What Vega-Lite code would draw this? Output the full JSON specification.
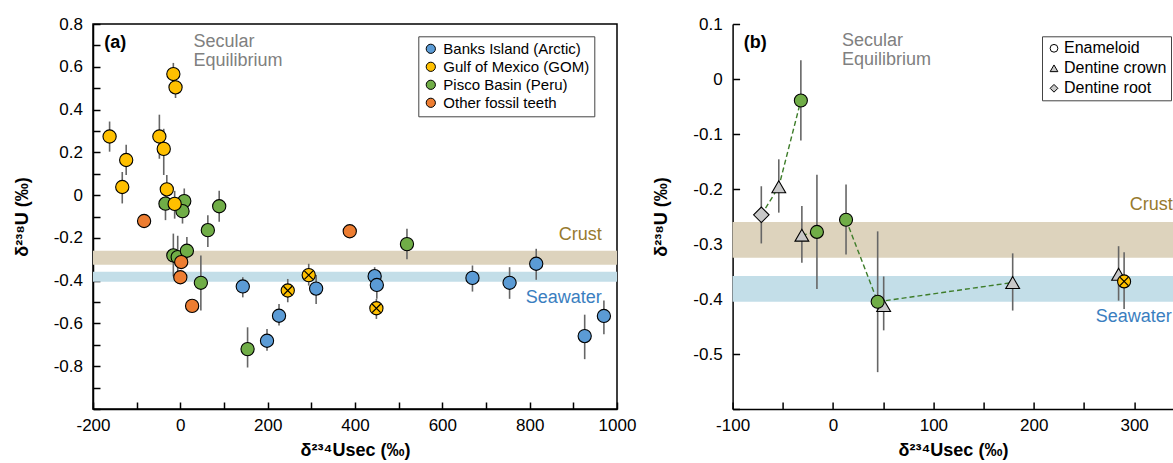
{
  "$schema": "https://vega.github.io/schema/vega-lite/v6.json",
  "padding": {"left": 12, "top": 14, "right": 0, "bottom": 0},
  "background": "white",
  "bounds": "flush",
  "spacing": 115.6,
  "config": {
    "font": "Liberation Sans",
    "view": {"stroke": "black", "strokeWidth": 1.5},
    "axis": {
      "grid": false, "domainColor": "black", "domainWidth": 1.5,
      "tickColor": "black", "tickWidth": 1.5, "zindex": 1,
      "labelFont": "Liberation Sans", "labelFontSize": 17, "labelColor": "black",
      "titleFont": "Liberation Sans", "titleFontSize": 18, "titleFontWeight": "bold", "titleColor": "black",
      "labelOverlap": false, "labelFlush": false
    },
    "axisX": {"titleY": 41, "titleBaseline": "middle"},
    "axisY": {"titleX": -71, "titleBaseline": "middle"}
  },
  "datasets": {
    "teethA": [
      {"group": "Pisco Basin (Peru)", "d234": -34, "d238": -0.04, "lo": -0.117, "hi": 0.03, "marked": false},
      {"group": "Pisco Basin (Peru)", "d234": 9, "d238": -0.028, "lo": -0.09, "hi": 0.031, "marked": false},
      {"group": "Pisco Basin (Peru)", "d234": 5, "d238": -0.075, "lo": -0.133, "hi": -0.015, "marked": false},
      {"group": "Pisco Basin (Peru)", "d234": 89, "d238": -0.052, "lo": -0.125, "hi": 0.02, "marked": false},
      {"group": "Pisco Basin (Peru)", "d234": 63, "d238": -0.164, "lo": -0.243, "hi": -0.094, "marked": false},
      {"group": "Pisco Basin (Peru)", "d234": -16, "d238": -0.282, "lo": -0.38, "hi": -0.18, "marked": false},
      {"group": "Pisco Basin (Peru)", "d234": -6, "d238": -0.29, "lo": -0.39, "hi": -0.19, "marked": false},
      {"group": "Pisco Basin (Peru)", "d234": 15, "d238": -0.26, "lo": -0.321, "hi": -0.196, "marked": false},
      {"group": "Pisco Basin (Peru)", "d234": 47, "d238": -0.41, "lo": -0.54, "hi": -0.282, "marked": false},
      {"group": "Pisco Basin (Peru)", "d234": 154, "d238": -0.72, "lo": -0.806, "hi": -0.618, "marked": false},
      {"group": "Pisco Basin (Peru)", "d234": 519, "d238": -0.229, "lo": -0.3, "hi": -0.157, "marked": false},
      {"group": "Gulf of Mexico (GOM)", "d234": -162, "d238": 0.274, "lo": 0.203, "hi": 0.344, "marked": false},
      {"group": "Gulf of Mexico (GOM)", "d234": -124, "d238": 0.164, "lo": 0.094, "hi": 0.235, "marked": false},
      {"group": "Gulf of Mexico (GOM)", "d234": -133, "d238": 0.038, "lo": -0.039, "hi": 0.108, "marked": false},
      {"group": "Gulf of Mexico (GOM)", "d234": -48, "d238": 0.274, "lo": 0.17, "hi": 0.376, "marked": false},
      {"group": "Gulf of Mexico (GOM)", "d234": -38, "d238": 0.216, "lo": 0.094, "hi": 0.31, "marked": false},
      {"group": "Gulf of Mexico (GOM)", "d234": -16, "d238": 0.566, "lo": 0.51, "hi": 0.618, "marked": false},
      {"group": "Gulf of Mexico (GOM)", "d234": -11, "d238": 0.504, "lo": 0.454, "hi": 0.56, "marked": false},
      {"group": "Gulf of Mexico (GOM)", "d234": -31, "d238": 0.027, "lo": -0.04, "hi": 0.094, "marked": false},
      {"group": "Gulf of Mexico (GOM)", "d234": -13, "d238": -0.041, "lo": -0.11, "hi": 0.02, "marked": false},
      {"group": "Gulf of Mexico (GOM)", "d234": 246, "d238": -0.446, "lo": -0.501, "hi": -0.392, "marked": true},
      {"group": "Gulf of Mexico (GOM)", "d234": 294, "d238": -0.374, "lo": -0.423, "hi": -0.321, "marked": true},
      {"group": "Gulf of Mexico (GOM)", "d234": 449, "d238": -0.529, "lo": -0.579, "hi": -0.485, "marked": true},
      {"group": "Banks Island (Arctic)", "d234": 143, "d238": -0.427, "lo": -0.478, "hi": -0.384, "marked": false},
      {"group": "Banks Island (Arctic)", "d234": 198.5, "d238": -0.681, "lo": -0.728, "hi": -0.626, "marked": false},
      {"group": "Banks Island (Arctic)", "d234": 226, "d238": -0.564, "lo": -0.61, "hi": -0.509, "marked": false},
      {"group": "Banks Island (Arctic)", "d234": 311, "d238": -0.437, "lo": -0.509, "hi": -0.374, "marked": false},
      {"group": "Banks Island (Arctic)", "d234": 445, "d238": -0.379, "lo": -0.43, "hi": -0.337, "marked": false},
      {"group": "Banks Island (Arctic)", "d234": 450, "d238": -0.42, "lo": -0.485, "hi": -0.37, "marked": false},
      {"group": "Banks Island (Arctic)", "d234": 669, "d238": -0.387, "lo": -0.451, "hi": -0.329, "marked": false},
      {"group": "Banks Island (Arctic)", "d234": 754, "d238": -0.41, "lo": -0.485, "hi": -0.337, "marked": false},
      {"group": "Banks Island (Arctic)", "d234": 815, "d238": -0.321, "lo": -0.396, "hi": -0.251, "marked": false},
      {"group": "Banks Island (Arctic)", "d234": 926, "d238": -0.659, "lo": -0.767, "hi": -0.559, "marked": false},
      {"group": "Banks Island (Arctic)", "d234": 970, "d238": -0.565, "lo": -0.65, "hi": -0.493, "marked": false},
      {"group": "Other fossil teeth", "d234": -83, "d238": -0.121, "marked": false},
      {"group": "Other fossil teeth", "d234": 2, "d238": -0.313, "marked": false},
      {"group": "Other fossil teeth", "d234": 0, "d238": -0.384, "marked": false},
      {"group": "Other fossil teeth", "d234": 27, "d238": -0.518, "marked": false},
      {"group": "Other fossil teeth", "d234": 388, "d238": -0.169, "marked": false}
    ],
    "teethB": [
      {"tissue": "Dentine root", "group": "Pisco Basin (Peru)", "d234": -71.4, "d238": -0.247, "lo": -0.299, "hi": -0.195, "marked": false},
      {"tissue": "Dentine crown", "group": "Pisco Basin (Peru)", "d234": -54, "d238": -0.196, "lo": -0.243, "hi": -0.146, "marked": false},
      {"tissue": "Dentine crown", "group": "Pisco Basin (Peru)", "d234": -31, "d238": -0.284, "lo": -0.334, "hi": -0.231, "marked": false},
      {"tissue": "Dentine crown", "group": "Pisco Basin (Peru)", "d234": 50.5, "d238": -0.412, "lo": -0.457, "hi": -0.359, "marked": false},
      {"tissue": "Dentine crown", "group": "Pisco Basin (Peru)", "d234": 179, "d238": -0.37, "lo": -0.421, "hi": -0.317, "marked": false},
      {"tissue": "Dentine crown", "group": "Gulf of Mexico (GOM)", "d234": 284.5, "d238": -0.355, "lo": -0.403, "hi": -0.304, "marked": false},
      {"tissue": "Enameloid", "group": "Pisco Basin (Peru)", "d234": -32, "d238": -0.039, "lo": -0.112, "hi": 0.034, "marked": false},
      {"tissue": "Enameloid", "group": "Pisco Basin (Peru)", "d234": -16, "d238": -0.278, "lo": -0.382, "hi": -0.174, "marked": false},
      {"tissue": "Enameloid", "group": "Pisco Basin (Peru)", "d234": 13, "d238": -0.256, "lo": -0.319, "hi": -0.192, "marked": false},
      {"tissue": "Enameloid", "group": "Pisco Basin (Peru)", "d234": 44.5, "d238": -0.405, "lo": -0.533, "hi": -0.277, "marked": false},
      {"tissue": "Enameloid", "group": "Gulf of Mexico (GOM)", "d234": 290, "d238": -0.368, "lo": -0.418, "hi": -0.315, "marked": true}
    ],
    "links": [
      {"link": "t1", "d234": -71.4, "d238": -0.247},
      {"link": "t1", "d234": -54, "d238": -0.196},
      {"link": "t1", "d234": -32, "d238": -0.039},
      {"link": "t2", "d234": -31, "d238": -0.284},
      {"link": "t2", "d234": -16, "d238": -0.278},
      {"link": "t3", "d234": 13, "d238": -0.256},
      {"link": "t3", "d234": 44.5, "d238": -0.405},
      {"link": "t3", "d234": 179, "d238": -0.37}
    ],
    "bands": [
      {"band": "Crust", "lo": -0.325, "hi": -0.26},
      {"band": "Seawater", "lo": -0.405, "hi": -0.358}
    ]
  },
  "resolve": {
    "scale": {"fill": "independent", "shape": "independent", "color": "independent"},
    "legend": {"fill": "independent", "shape": "independent", "color": "independent"}
  },
  "hconcat": [
    {
      "width": 524,
      "height": 385,
      "resolve": {"axis": {"x": "independent", "y": "independent"}},
      "layer": [
        {
          "data": {"name": "bands"},
          "transform": [{"filter": "datum.band == 'Crust'"}],
          "mark": {"type": "rect", "color": "#DDD3BD"},
          "encoding": {
            "x": {"datum": -200, "type": "quantitative", "axis": null, "scale": {"domain": [-200, 1000], "nice": false, "zero": false}},
            "x2": {"datum": 1000},
            "y": {"field": "lo", "type": "quantitative", "axis": null, "scale": {"domain": [-1.0, 0.8], "nice": false, "zero": false}},
            "y2": {"field": "hi"}
          }
        },
        {
          "data": {"name": "bands"},
          "transform": [{"filter": "datum.band == 'Seawater'"}],
          "mark": {"type": "rect", "color": "#C3DEE8"},
          "encoding": {
            "x": {"datum": -200, "type": "quantitative", "axis": null},
            "x2": {"datum": 1000},
            "y": {"field": "lo", "type": "quantitative", "axis": null},
            "y2": {"field": "hi"}
          }
        },
        {
          "mark": {"type": "rule", "color": "#9a9a9a", "strokeDash": [6, 4], "strokeWidth": 1.3},
          "encoding": {"x": {"datum": 0, "type": "quantitative", "axis": null}}
        },
        {
          "data": {"name": "teethA"},
          "transform": [{"filter": "isValid(datum.lo)"}],
          "mark": {"type": "rule", "color": "#666666", "strokeWidth": 1.6},
          "encoding": {
            "x": {"field": "d234", "type": "quantitative",
              "axis": {"orient": "bottom", "offset": -7, "ticks": true, "tickSize": 7, "labels": false, "domain": false, "title": null,
                "values": [-200, -100, 0, 100, 200, 300, 400, 500, 600, 700, 800, 900, 1000]}
            },
            "y": {"field": "lo", "type": "quantitative",
              "axis": {"orient": "left", "offset": -7, "ticks": true, "tickSize": 7, "labels": false, "domain": false, "title": null,
                "values": [-1.0, -0.9, -0.8, -0.7, -0.6, -0.5, -0.4, -0.3, -0.2, -0.1, 0, 0.1, 0.2, 0.3, 0.4, 0.5, 0.6, 0.7, 0.8]}
            },
            "y2": {"field": "hi"}
          }
        },
        {
          "data": {"name": "teethA"},
          "mark": {"type": "point", "shape": "circle", "filled": true, "size": 175, "stroke": "black", "strokeWidth": 1.1, "opacity": 1},
          "encoding": {
            "x": {"field": "d234", "type": "quantitative",
              "axis": {
                "orient": "bottom", "ticks": false, "tickSize": 0, "labelPadding": 8,
                "title": "δ²³⁴Usec (‰)",
                "values": [-200, 0, 200, 400, 600, 800, 1000],
                "labelExpr": "datum.value < 0 ? '-' + (-datum.value) : '' + datum.value"
              }
            },
            "y": {"field": "d238", "type": "quantitative",
              "axis": {
                "orient": "left", "ticks": false, "tickSize": 0, "labelPadding": 10.5,
                "title": "δ²³⁸U (‰)",
                "values": [-0.8, -0.6, -0.4, -0.2, 0, 0.2, 0.4, 0.6, 0.8],
                "labelExpr": "abs(datum.value) < 1e-9 ? '0' : (datum.value < 0 ? '-' + format(-datum.value, '.1f') : format(datum.value, '.1f'))"
              }
            },
            "fill": {
              "field": "group", "type": "nominal",
              "scale": {
                "domain": ["Banks Island (Arctic)", "Gulf of Mexico (GOM)", "Pisco Basin (Peru)", "Other fossil teeth"],
                "range": ["#5B9BD5", "#FFC000", "#70AD47", "#ED7D31"]
              },
              "legend": {
                "orient": "none", "legendX": 325.3, "legendY": 12.3, "title": null,
                "strokeColor": "#444444", "fillColor": "white", "padding": 5,
                "labelFont": "Liberation Sans", "labelFontSize": 15, "labelColor": "black", "labelLimit": 300,
                "symbolType": "circle", "symbolSize": 85, "symbolStrokeColor": "black", "symbolStrokeWidth": 1,
                "rowPadding": 2, "labelOffset": 5
              }
            }
          }
        },
        {
          "data": {"name": "teethA"},
          "transform": [{"filter": "datum.marked"}],
          "mark": {"type": "point", "shape": "M-0.65,-0.65L0.65,0.65M-0.65,0.65L0.65,-0.65", "filled": false, "size": 175, "stroke": "black", "strokeWidth": 1.2, "opacity": 1},
          "encoding": {
            "x": {"field": "d234", "type": "quantitative", "axis": null},
            "y": {"field": "d238", "type": "quantitative", "axis": null}
          }
        },
        {
          "data": {"values": [{"label": "(a)", "d234": -174, "d238": 0.712}]},
          "mark": {"type": "text", "align": "left", "baseline": "middle", "fontSize": 18, "fontWeight": "bold", "color": "black"},
          "encoding": {
            "x": {"field": "d234", "type": "quantitative", "axis": null},
            "y": {"field": "d238", "type": "quantitative", "axis": null},
            "text": {"field": "label"}
          }
        },
        {
          "data": {"values": [{"label": "Secular", "d234": 30, "d238": 0.692}, {"label": "Equilibrium", "d234": 30, "d238": 0.603}]},
          "mark": {"type": "text", "align": "left", "baseline": "alphabetic", "fontSize": 18, "color": "#808080"},
          "encoding": {
            "x": {"field": "d234", "type": "quantitative", "axis": null},
            "y": {"field": "d238", "type": "quantitative", "axis": null},
            "text": {"field": "label"}
          }
        },
        {
          "data": {"values": [{"label": "Crust", "d234": 965, "d238": -0.186}]},
          "mark": {"type": "text", "align": "right", "baseline": "middle", "fontSize": 18, "color": "#977A2E"},
          "encoding": {
            "x": {"field": "d234", "type": "quantitative", "axis": null},
            "y": {"field": "d238", "type": "quantitative", "axis": null},
            "text": {"field": "label"}
          }
        },
        {
          "data": {"values": [{"label": "Seawater", "d234": 965, "d238": -0.481}]},
          "mark": {"type": "text", "align": "right", "baseline": "middle", "fontSize": 18, "color": "#3A7EC0"},
          "encoding": {
            "x": {"field": "d234", "type": "quantitative", "axis": null},
            "y": {"field": "d238", "type": "quantitative", "axis": null},
            "text": {"field": "label"}
          }
        }
      ]
    },
    {
      "width": 440.7,
      "height": 385,
      "view": {"stroke": null},
      "resolve": {"axis": {"x": "independent", "y": "independent"}},
      "layer": [
        {
          "data": {"name": "bands"},
          "transform": [{"filter": "datum.band == 'Crust'"}],
          "mark": {"type": "rect", "color": "#DDD3BD"},
          "encoding": {
            "x": {"datum": -100, "type": "quantitative", "axis": null, "scale": {"domain": [-100, 339], "nice": false, "zero": false}},
            "x2": {"datum": 339},
            "y": {"field": "lo", "type": "quantitative", "axis": null, "scale": {"domain": [-0.6, 0.1], "nice": false, "zero": false}},
            "y2": {"field": "hi"}
          }
        },
        {
          "data": {"name": "bands"},
          "transform": [{"filter": "datum.band == 'Seawater'"}],
          "mark": {"type": "rect", "color": "#C3DEE8"},
          "encoding": {
            "x": {"datum": -100, "type": "quantitative", "axis": null},
            "x2": {"datum": 339},
            "y": {"field": "lo", "type": "quantitative", "axis": null},
            "y2": {"field": "hi"}
          }
        },
        {
          "mark": {"type": "rule", "color": "#9a9a9a", "strokeDash": [6, 4], "strokeWidth": 1.3},
          "encoding": {"x": {"datum": 0, "type": "quantitative", "axis": null}}
        },
        {
          "mark": {"type": "rule", "color": "black", "strokeWidth": 1.5},
          "encoding": {"y": {"datum": 0.1, "type": "quantitative", "axis": null}}
        },
        {
          "data": {"name": "teethB"},
          "mark": {"type": "rule", "color": "#666666", "strokeWidth": 1.6},
          "encoding": {
            "x": {"field": "d234", "type": "quantitative",
              "axis": {"orient": "bottom", "offset": -7, "ticks": true, "tickSize": 7, "labels": false, "domain": false, "title": null,
                "values": [-100, -50, 0, 50, 100, 150, 200, 250, 300]}
            },
            "y": {"field": "lo", "type": "quantitative",
              "axis": {"orient": "left", "offset": -7, "ticks": true, "tickSize": 7, "labels": false, "domain": false, "title": null,
                "values": [-0.6, -0.5, -0.4, -0.3, -0.2, -0.1, 0, 0.1]}
            },
            "y2": {"field": "hi"}
          }
        },
        {
          "data": {"name": "links"},
          "mark": {"type": "line", "color": "#3E7D2A", "strokeDash": [5, 3], "strokeWidth": 1.4},
          "encoding": {
            "x": {"field": "d234", "type": "quantitative", "axis": null},
            "y": {"field": "d238", "type": "quantitative", "axis": null},
            "detail": {"field": "link"}
          }
        },
        {
          "data": {"name": "teethB"},
          "transform": [{"filter": "datum.tissue == 'Dentine root'"}],
          "mark": {"type": "point", "filled": true, "size": 240, "stroke": "black", "strokeWidth": 1.1, "opacity": 1},
          "encoding": {
            "x": {"field": "d234", "type": "quantitative", "axis": null},
            "y": {"field": "d238", "type": "quantitative", "axis": null},
            "fill": {"field": "tissue", "type": "nominal", "scale": {"domain": ["Enameloid", "Dentine crown", "Dentine root"], "range": ["#ffffff", "#C8C8C8", "#C8C8C8"]}},
            "shape": {"field": "tissue", "type": "nominal", "scale": {"domain": ["Enameloid", "Dentine crown", "Dentine root"], "range": ["circle", "triangle-up", "diamond"]}}
          }
        },
        {
          "data": {"name": "teethB"},
          "transform": [{"filter": "datum.tissue == 'Dentine crown'"}],
          "mark": {"type": "point", "filled": true, "size": 190, "stroke": "black", "strokeWidth": 1.1, "opacity": 1},
          "encoding": {
            "x": {"field": "d234", "type": "quantitative", "axis": null},
            "y": {"field": "d238", "type": "quantitative", "axis": null},
            "fill": {"field": "tissue", "type": "nominal", "scale": {"domain": ["Enameloid", "Dentine crown", "Dentine root"], "range": ["#ffffff", "#C8C8C8", "#C8C8C8"]},
              "legend": {
                "orient": "none", "legendX": 309.4, "legendY": 12.3, "title": null,
                "strokeColor": "#444444", "fillColor": "white", "padding": 4,
                "labelFont": "Liberation Sans", "labelFontSize": 16, "labelColor": "black",
                "symbolSize": 60, "symbolStrokeColor": "black", "symbolStrokeWidth": 1,
                "rowPadding": 4, "labelOffset": 2
              }
            },
            "shape": {"field": "tissue", "type": "nominal", "scale": {"domain": ["Enameloid", "Dentine crown", "Dentine root"], "range": ["circle", "triangle-up", "diamond"]}}
          }
        },
        {
          "data": {"name": "teethB"},
          "transform": [{"filter": "datum.tissue == 'Enameloid'"}],
          "mark": {"type": "point", "filled": true, "size": 170, "stroke": "black", "strokeWidth": 1.1, "opacity": 1},
          "encoding": {
            "x": {"field": "d234", "type": "quantitative",
              "axis": {
                "orient": "bottom", "ticks": false, "tickSize": 0, "labelPadding": 8,
                "title": "δ²³⁴Usec (‰)",
                "values": [-100, 0, 100, 200, 300],
                "labelExpr": "datum.value < 0 ? '-' + (-datum.value) : '' + datum.value"
              }
            },
            "y": {"field": "d238", "type": "quantitative",
              "axis": {
                "orient": "left", "ticks": false, "tickSize": 0, "labelPadding": 10.5,
                "title": "δ²³⁸U (‰)",
                "values": [-0.5, -0.4, -0.3, -0.2, -0.1, 0, 0.1],
                "labelExpr": "abs(datum.value) < 1e-9 ? '0' : (datum.value < 0 ? '-' + format(-datum.value, '.1f') : format(datum.value, '.1f'))"
              }
            },
            "color": {
              "field": "group", "type": "nominal",
              "scale": {"domain": ["Pisco Basin (Peru)", "Gulf of Mexico (GOM)"], "range": ["#70AD47", "#FFC000"]},
              "legend": null
            },
            "shape": {
              "field": "tissue", "type": "nominal",
              "scale": {"domain": ["Enameloid", "Dentine crown", "Dentine root"], "range": ["circle", "triangle-up", "diamond"]},
              "legend": {
                "orient": "none", "legendX": 309.4, "legendY": 12.3, "title": null,
                "strokeColor": "#444444", "fillColor": "white", "padding": 4,
                "labelFont": "Liberation Sans", "labelFontSize": 16, "labelColor": "black",
                "symbolSize": 60, "symbolStrokeColor": "black", "symbolStrokeWidth": 1,
                "rowPadding": 4, "labelOffset": 2
              }
            }
          }
        },
        {
          "data": {"name": "teethB"},
          "transform": [{"filter": "datum.marked"}],
          "mark": {"type": "point", "shape": "M-0.65,-0.65L0.65,0.65M-0.65,0.65L0.65,-0.65", "filled": false, "size": 170, "stroke": "black", "strokeWidth": 1.2, "opacity": 1},
          "encoding": {
            "x": {"field": "d234", "type": "quantitative", "axis": null},
            "y": {"field": "d238", "type": "quantitative", "axis": null}
          }
        },
        {
          "data": {"values": [{"label": "(b)", "d234": -89, "d238": 0.0652}]},
          "mark": {"type": "text", "align": "left", "baseline": "middle", "fontSize": 18, "fontWeight": "bold", "color": "black"},
          "encoding": {
            "x": {"field": "d234", "type": "quantitative", "axis": null},
            "y": {"field": "d238", "type": "quantitative", "axis": null},
            "text": {"field": "label"}
          }
        },
        {
          "data": {"values": [{"label": "Secular", "d234": 9, "d238": 0.0598}, {"label": "Equilibrium", "d234": 9, "d238": 0.025}]},
          "mark": {"type": "text", "align": "left", "baseline": "alphabetic", "fontSize": 18, "color": "#808080"},
          "encoding": {
            "x": {"field": "d234", "type": "quantitative", "axis": null},
            "y": {"field": "d238", "type": "quantitative", "axis": null},
            "text": {"field": "label"}
          }
        },
        {
          "data": {"values": [{"label": "Crust", "d234": 338.5, "d238": -0.2285}]},
          "mark": {"type": "text", "align": "right", "baseline": "middle", "fontSize": 18, "color": "#977A2E"},
          "encoding": {
            "x": {"field": "d234", "type": "quantitative", "axis": null},
            "y": {"field": "d238", "type": "quantitative", "axis": null},
            "text": {"field": "label"}
          }
        },
        {
          "data": {"values": [{"label": "Seawater", "d234": 337.5, "d238": -0.4326}]},
          "mark": {"type": "text", "align": "right", "baseline": "middle", "fontSize": 18, "color": "#3A7EC0"},
          "encoding": {
            "x": {"field": "d234", "type": "quantitative", "axis": null},
            "y": {"field": "d238", "type": "quantitative", "axis": null},
            "text": {"field": "label"}
          }
        }
      ]
    }
  ]
}
